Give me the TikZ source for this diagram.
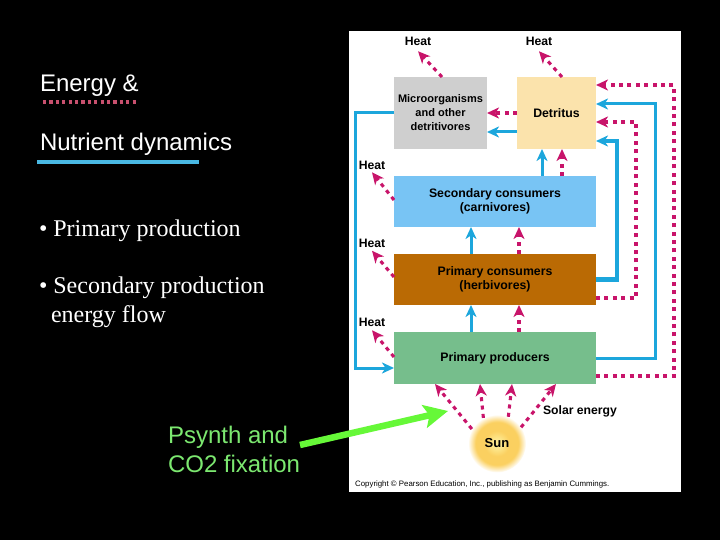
\documentclass[tikz,border=0pt]{standalone}
\usepackage{fontspec}
\setmainfont{Liberation Sans}
\newfontfamily\serifface{Liberation Serif}
\usetikzlibrary{arrows.meta,calc}
\definecolor{pk}{HTML}{C8146A}
\definecolor{bl}{HTML}{1CA6DC}
\definecolor{grn}{HTML}{66F838}
\definecolor{txtgrn}{HTML}{7CE870}
\definecolor{sunin}{HTML}{FDE88E}
\definecolor{sunmid}{HTML}{FBD060}
\definecolor{pkline}{HTML}{C8506E}
\pgfdeclareradialshading{sunshade}{\pgfpoint{0bp}{0bp}}{color(0bp)=(sunin); color(4bp)=(sunin); color(11bp)=(sunmid); color(18.5bp)=(sunmid); color(25bp)=(white); color(50bp)=(white)}
\tikzset{
  x=1pt,y=-1pt,
  boxnode/.style={inner sep=0pt,outer sep=0pt,align=center,text=black,font=\bfseries\fontsize{12.3}{14}\selectfont},
  lbl/.style={inner sep=0pt,outer sep=0pt,text=black,font=\bfseries\fontsize{12.2}{14}\selectfont},
  pkarrow/.style={draw=pk,line width=3.1pt,dash pattern=on 4pt off 4.4pt,-{Stealth[length=12pt,width=11pt,inset=3.5pt]}},
  blarrow/.style={draw=bl,line width=3pt,-{Stealth[length=12pt,width=11pt,inset=3.5pt]}},
  slide/.style={inner sep=0pt,outer sep=0pt,anchor=west,align=left,text=white,font=\fontsize{24}{29}\selectfont},
}
\begin{document}
\begin{tikzpicture}
\useasboundingbox (0,0) rectangle (720,540);
\fill[black] (0,0) rectangle (720,540);
\fill[white] (349,31) rectangle (681,492);
% left text
\node[slide] (title1) at (40,86) {Energy \&};
\node[slide] (title2) at (40,144) {Nutrient dynamics};
\draw[draw=pkline,line width=4pt,dash pattern=on 3.2pt off 3.2pt] (43,102) -- (137,102);
\fill[fill=bl!80!white] (37,160) rectangle (199,164);
\node[slide,font=\serifface\fontsize{24}{29}\selectfont] (b1) at (39,231) {• Primary production};
\node[slide,font=\serifface\fontsize{24}{29}\selectfont] (b2) at (39,302.5) {• Secondary production\\\hspace*{12pt}energy flow};
\node[slide,text=txtgrn] (psy) at (168,449.5) {Psynth and\\CO2 fixation};
% boxes
\node[boxnode,font=\bfseries\fontsize{11}{14}\selectfont,fill=black!19,minimum width=93pt,minimum height=72pt] (micro) at (440.5,113) {Microorganisms\\and other\\detritivores};
\node[boxnode,fill={rgb,255:red,251;green,227;blue,172},minimum width=79pt,minimum height=72pt] (det) at (556.5,113) {Detritus};
\node[boxnode,fill={rgb,255:red,120;green,196;blue,244},minimum width=202pt,minimum height=51pt] (sec) at (495,201.5) {Secondary consumers\\(carnivores)};
\node[boxnode,fill={rgb,255:red,186;green,106;blue,4},minimum width=202pt,minimum height=51pt] (pc) at (495,279.5) {Primary consumers\\(herbivores)};
\node[boxnode,fill={rgb,255:red,118;green,190;blue,140},minimum width=202pt,minimum height=52pt] (pp) at (495,358) {Primary producers};
\node[circle,inner sep=0pt,outer sep=0pt,minimum size=58pt,shading=sunshade,lbl,font=\bfseries\fontsize{13}{14}\selectfont] (sun) at (497,443.5) {Sun};
% labels
\node[lbl] (h1) at (418,41) {Heat};
\node[lbl] (h2) at (539,41) {Heat};
\node[lbl] (h3) at (372,165) {Heat};
\node[lbl] (h4) at (372,243.5) {Heat};
\node[lbl] (h5) at (372,322) {Heat};
\node[lbl] (solar) at (580,411) {Solar energy};
\node[inner sep=0pt,text=black,font=\fontsize{7.85}{9}\selectfont,anchor=west] (copy) at (355,484) {Copyright © Pearson Education, Inc., publishing as Benjamin Cummings.};
% heat arrows
\draw[pkarrow] ([xshift=1.5pt]micro.north) -- ([yshift=-6pt]h1.south);
\draw[pkarrow] ([xshift=5.5pt]det.north) -- ([yshift=-6pt]h2.south);
\draw[pkarrow] ([yshift=1.5pt]sec.west) -- ([yshift=-3pt]h3.south);
\draw[pkarrow] ([yshift=2.5pt]pc.west) -- ([yshift=-3pt]h4.south);
\draw[pkarrow] ([yshift=1pt]pp.west) -- ([yshift=-4pt]h5.south);
% detritus to micro
\draw[pkarrow] (det.west) -- (micro.east);
\draw[blarrow] ([yshift=-19pt]det.west) -- ([yshift=-19pt]micro.east);
% micro loop to producers
\draw[blarrow] (micro.west) -- (355,113) -- (355,368) -- ([yshift=-10pt]pp.west);
% upward arrows
\draw[blarrow] ([xshift=47pt]sec.north) -- ([xshift=47pt]sec.north |- det.south);
\draw[pkarrow] ([xshift=67pt]sec.north) -- ([xshift=67pt]sec.north |- det.south);
\draw[blarrow] ([xshift=-24pt]pc.north) -- ([xshift=-24pt]pc.north |- sec.south);
\draw[pkarrow] ([xshift=24pt]pc.north) -- ([xshift=24pt]pc.north |- sec.south);
\draw[blarrow] ([xshift=-24pt]pp.north) -- ([xshift=-24pt]pp.north |- pc.south);
\draw[pkarrow] ([xshift=24pt]pp.north) -- ([xshift=24pt]pp.north |- pc.south);
% right side returns
\draw[pkarrow] ([yshift=-18pt]pp.east) -- (674,376) -- (674,85) -- ([yshift=28pt]det.east);
\draw[blarrow] (pp.east) -- (655,358) -- (655,104) -- ([yshift=9pt]det.east);
\draw[pkarrow] ([yshift=-18.5pt]pc.east) -- (636,298) -- (636,122) -- ([yshift=-9pt]det.east);
\draw[blarrow,line width=4.2pt] (pc.east) -- (617,279.5) -- (617,141) -- ([yshift=-28pt]det.east);
% sun arrows
\draw[pkarrow] (sun.150) -- ([xshift=-60pt]pp.south);
\draw[pkarrow] (sun.118) -- ([xshift=-15pt]pp.south);
\draw[pkarrow] (sun.67) -- ([xshift=17pt]pp.south);
\draw[pkarrow] (sun.34) -- ([xshift=61pt]pp.south);
% green arrow
\coordinate (gstart) at (300,445);
\coordinate (gtip) at (448,411);
\draw[draw=grn,line width=6.5pt,-{Stealth[length=24pt,width=23pt,inset=5pt]}] (gstart) -- (gtip);
\end{tikzpicture}
\end{document}
